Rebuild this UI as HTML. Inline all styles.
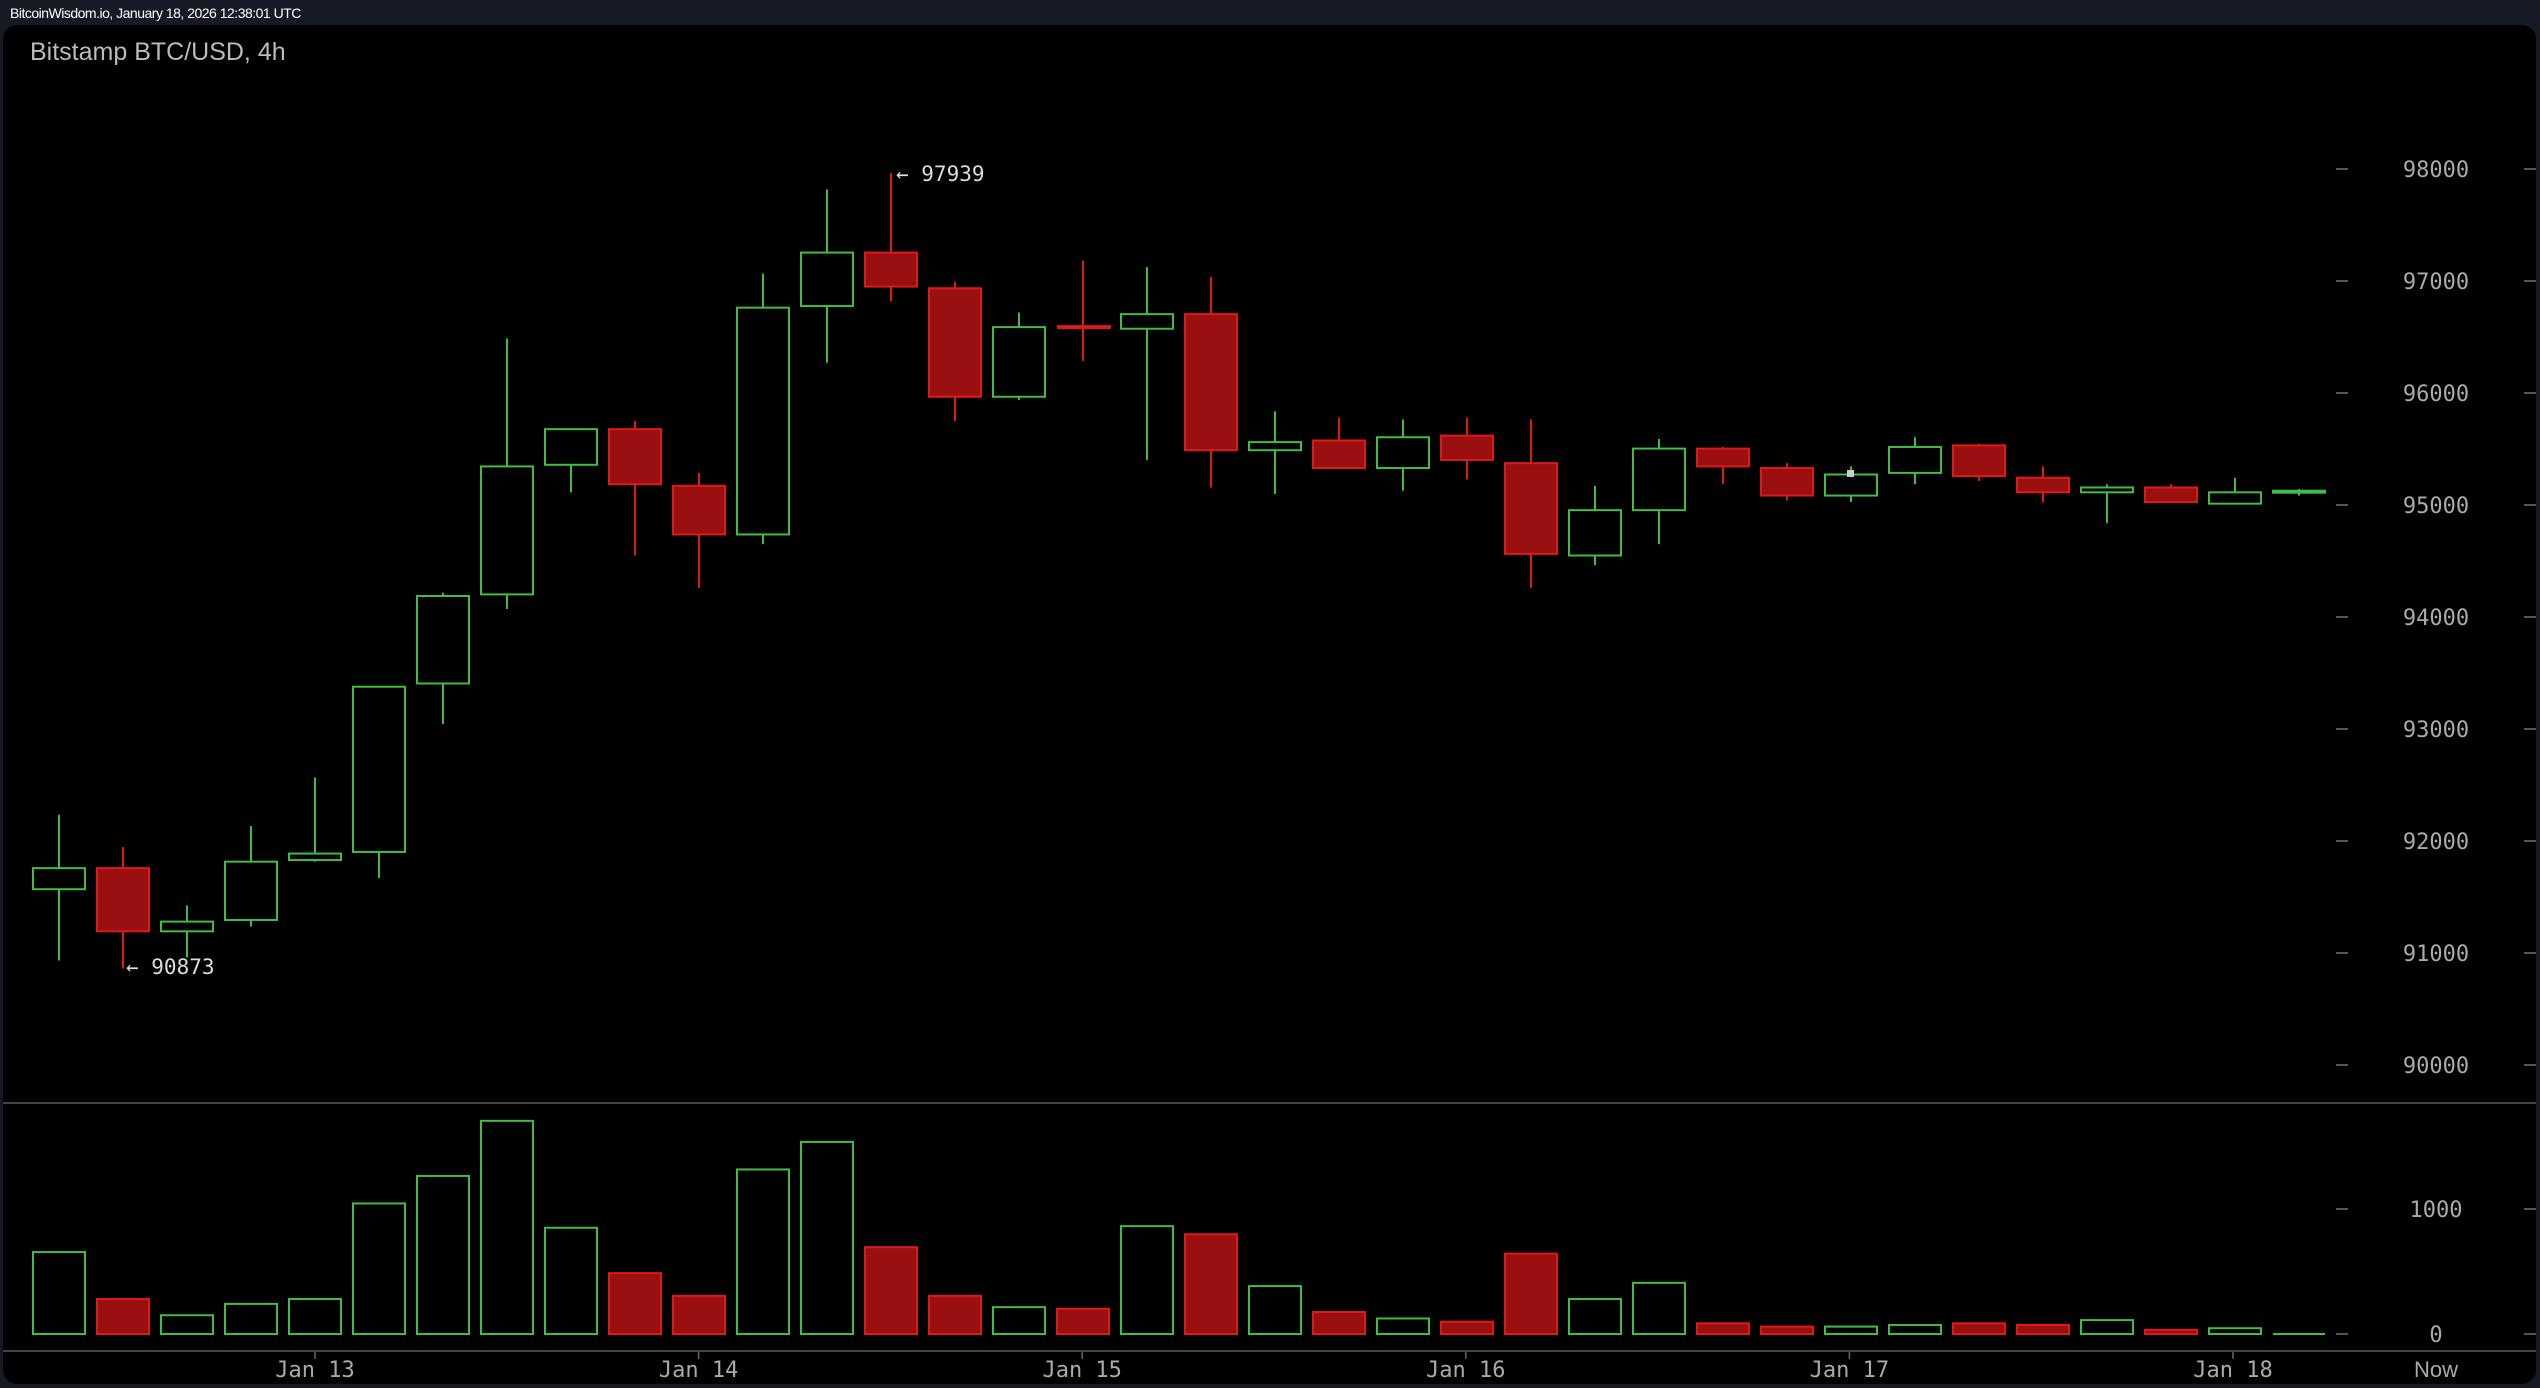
<!DOCTYPE html>
<html><head><meta charset="utf-8"><style>
html,body{margin:0;padding:0;background:#151a24;width:2540px;height:1388px;overflow:hidden}
svg{display:block}
</style></head><body>
<svg id="s" width="2540" height="1388" xmlns="http://www.w3.org/2000/svg">
<rect x="0" y="0" width="2540" height="1388" fill="#151a24"/>
<rect x="3" y="25" width="2533" height="1359" rx="14" fill="#000"/>
<text x="10" y="18" font-family="Liberation Sans, sans-serif" font-size="14" fill="#fff" letter-spacing="-0.5">BitcoinWisdom.io, January 18, 2026 12:38:01 UTC</text>
<text x="30" y="60" font-family="Liberation Sans, sans-serif" font-size="25" fill="#bbb">Bitstamp BTC/USD, 4h</text>
<line x1="3" y1="1103" x2="2536" y2="1103" stroke="#444" stroke-width="2"/>
<line x1="3" y1="1351" x2="2536" y2="1351" stroke="#444" stroke-width="2"/>
<g id="g"></g>
</svg>
<script>
var NS="http://www.w3.org/2000/svg",g=document.getElementById('g');
function el(t,a,txt){var e=document.createElementNS(NS,t);for(var k in a)e.setAttribute(k,a[k]);if(txt!=null)e.textContent=txt;g.appendChild(e);return e;}
function Y(d){return d*1.6199+1.5;}
var GR="#44bb44",RS="#dd1a1a",RF="#9a1010";
// c,high,bodyTop,bodyBot,low (display coords)
var C=[
['G',502,535,548,592],['R',522,535,574,597],['G',558,568,574,590],['G',509,531,567,571],
['G',479,526,530,531],['G',423,423,525,541],['G',365,367,421,446],['G',208,287,366,375],
['G',264,264,286,303],['R',259,264,298,342],['R',291,299,329,362],['G',168,189,329,335],
['G',116,155,188,223],['R',106,155,176,185],['R',173,177,244,259],['G',192,201,244,246],
['R',160,201,202,222],['G',164,193,202,283],['R',170,193,277,300],['G',253,272,277,304],
['R',257,271,288,288],['G',258,269,288,302],['R',257,268,283,295],['R',258,285,341,362],
['G',299,314,342,348],['G',270,276,314,335],['R',275,276,287,298],['R',285,288,305,308],
['G',287,292,305,309],['G',269,275,291,298],['R',273,274,293,296],['R',287,294,303,309],
['G',298,300,303,322],['R',298,300,309,309],['G',294,303,310,310],['G',301,302,303,305]];
var V=[772,801,811,804,801,742,725,691,757,785,799,721,704,769,799,806,807,756,761,793,809,813,815,773,801,791,816,818,818,817,816,817,814,820,819,823];
for(var i=0;i<C.length;i++){
 var c=C[i],x=59+64*i,col=c[0]=='G'?GR:RS;
 var hy=Y(c[1]),ty=Y(c[2]),by=Y(c[3]),ly=Y(c[4]);
 el('line',{x1:x,y1:hy,x2:x,y2:ly,stroke:col,'stroke-width':2});
 var h=Math.max(by-ty,2);
 if(i==16){el('rect',{x:x-26,y:ty-2,width:54,height:4,fill:RS});}
 else el('rect',{x:x-26,y:ty,width:52,height:h,fill:c[0]=='G'?'#000':RF,stroke:col,'stroke-width':2});
 var vt=V[i]*1.6199+1.5,vb=1334;
 if(vb-vt<2){el('line',{x1:x-26,y1:vb,x2:x+26,y2:vb,stroke:col,'stroke-width':2});}
 else el('rect',{x:x-26,y:vt,width:52,height:vb-vt,fill:c[0]=='G'?'#000':RF,stroke:col,'stroke-width':2});
}
el('rect',{x:1847,y:470,width:7,height:7,fill:'#ccc'});
var F="DejaVu Sans Mono, Liberation Mono, monospace";
el('text',{x:896,y:181,'font-family':F,'font-size':21,fill:'#ddd'},'\u2190 97939');
el('text',{x:126,y:974,'font-family':F,'font-size':21,fill:'#ddd'},'\u2190 90873');
var P=[98000,97000,96000,95000,94000,93000,92000,91000,90000];
for(var j=0;j<P.length;j++){var y=169+j*112;
 el('line',{x1:2336,y1:y,x2:2348,y2:y,stroke:'#555','stroke-width':2});
 el('line',{x1:2524,y1:y,x2:2536,y2:y,stroke:'#555','stroke-width':2});
 el('text',{x:2436,y:y+8,'text-anchor':'middle','font-family':F,'font-size':22,fill:'#aaa'},P[j]);}
[[1000,1209],[0,1334]].forEach(function(p){var y=p[1];
 el('line',{x1:2336,y1:y,x2:2348,y2:y,stroke:'#555','stroke-width':2});
 el('line',{x1:2524,y1:y,x2:2536,y2:y,stroke:'#555','stroke-width':2});
 el('text',{x:2436,y:y+8,'text-anchor':'middle','font-family':F,'font-size':22,fill:'#aaa'},p[0]);});
['Jan 13','Jan 14','Jan 15','Jan 16','Jan 17','Jan 18'].forEach(function(t,k){var x=315+383.6*k;
 el('line',{x1:x,y1:1352,x2:x,y2:1359,stroke:'#666','stroke-width':1.5});
 el('text',{x:x,y:1377,'text-anchor':'middle','font-family':F,'font-size':22,fill:'#aaa'},t);});
el('text',{x:2436,y:1377,'text-anchor':'middle','font-family':'Liberation Sans, sans-serif','font-size':22,fill:'#aaa'},'Now');
</script>
</body></html>
